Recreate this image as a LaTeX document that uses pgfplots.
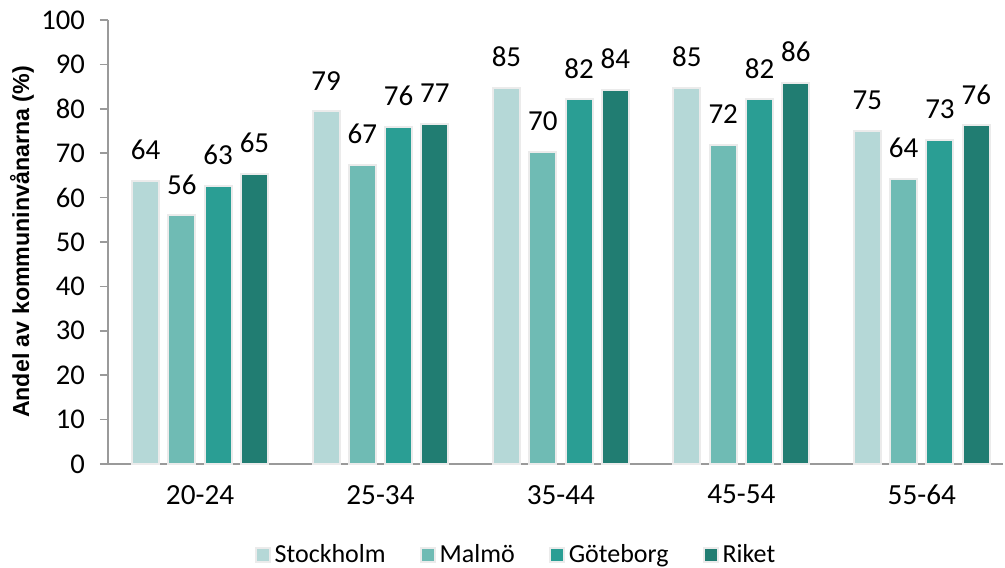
\documentclass[border=0pt]{standalone}
\usepackage{fontspec}
\setmainfont{Carlito}
\newfontfamily\arialfont{Liberation Sans}
\usepackage{pgfplots}
\usepackage{pgfplotstable}
\pgfplotsset{compat=1.18}

\definecolor{cstock}{HTML}{B5D8D7}
\definecolor{cmalmo}{HTML}{6FBBB4}
\definecolor{cgbg}{HTML}{2A9E94}
\definecolor{criket}{HTML}{217D72}
\definecolor{axisgray}{HTML}{9A9A9A}

% bar heights and the rounded labels shown above them
\pgfplotstableread{
x stock stockl malmo malmol gbg gbgl riket riketl
0 63.7 64 56.0 56 62.7 63 65.3 65
1 79.4 79 67.3 67 75.9 76 76.6 77
2 84.7 85 70.3 70 82.1 82 84.2 84
3 84.7 85 71.9 72 82.1 82 85.8 86
4 75.1 75 64.3 64 73.0 73 76.3 76
}\agedata

\begin{document}
\begin{tikzpicture}
\path[use as bounding box] (-54pt,-51.5pt) rectangle (448.5pt,232pt);
\begin{axis}[
    at={(0,0)}, anchor=south west,
    scale only axis,
    width=447.5pt, height=222pt,
    ybar=4.65pt,
    bar width=13.5pt,
    xmin=-0.51, xmax=4.45,
    ymin=0, ymax=100,
    ytick={0,10,...,100},
    xtick={0,1,2,3,4},
    xticklabels={20-24,25-34,35-44,45-54,55-64},
    axis lines=left,
    axis line style={-, draw=axisgray, line width=0.75pt},
    y tick style={draw=axisgray, line width=0.75pt},
    x tick style={draw=none},
    tick align=outside,
    major tick length=4pt,
    /pgf/number format/assume math mode=true,
    y tick label style={font=\fontsize{14.3}{16}\selectfont, xshift=-4pt},
    x tick label style={font=\fontsize{14.6}{16}\selectfont, yshift=-3pt},
    ylabel={Andel av kommuninvånarna (\%)},
    ylabel style={font=\arialfont\bfseries\fontsize{11.6}{13}\selectfont,
        at={(axis description cs:-0.0961,0.5)}, anchor=center},
    point meta=explicit symbolic,
    nodes near coords,
    nodes near coords style={font=\fontsize{14.5}{16}\selectfont, text=black,
        anchor=south, inner sep=0pt, yshift=10pt},
    every axis plot/.append style={draw=black!8, line width=1pt},
    legend columns=4,
    legend cell align={left},
    legend style={at={(axis description cs:0.4569,-0.2045)}, anchor=center,
        draw=none, fill=none, font=\fontsize{13}{15}\selectfont,
        /tikz/every even column/.append style={column sep=15pt}},
    legend image code/.code={\fill[#1] (0pt,-3.5pt) rectangle (7pt,3.5pt);},
]
\addplot[fill=cstock] table[x=x, y=stock, meta=stockl] {\agedata};
\addlegendentry{Stockholm}
\addplot[fill=cmalmo] table[x=x, y=malmo, meta=malmol] {\agedata};
\addlegendentry{Malmö}
\addplot[fill=cgbg] table[x=x, y=gbg, meta=gbgl] {\agedata};
\addlegendentry{Göteborg}
\addplot[fill=criket] table[x=x, y=riket, meta=riketl] {\agedata};
\addlegendentry{Riket}
\end{axis}
\end{tikzpicture}
\end{document}
